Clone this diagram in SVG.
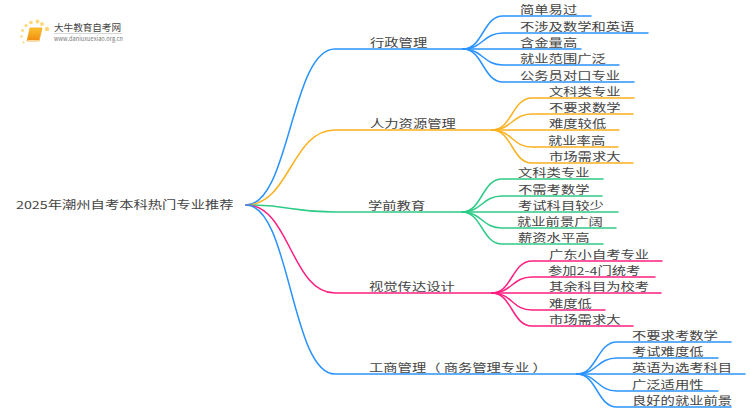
<svg xmlns="http://www.w3.org/2000/svg" width="750" height="410" viewBox="0 0 750 410">
<style>
text{font-family:"Noto Sans CJK SC","Liberation Sans",sans-serif;font-size:11px;fill:#444}
path{fill:none;stroke-width:1.5;stroke-linecap:round}
.b{stroke:#2b93ff}.o{stroke:#fbb120}.g{stroke:#2ecb87}.p{stroke:#ff1f80}
</style>
<defs><linearGradient id="bk" x1="0" y1="0" x2="0" y2="1"><stop offset="0" stop-color="#fbc02d"/><stop offset="1" stop-color="#f08a10"/></linearGradient></defs>
<rect width="750" height="410" fill="#fff"/>
<g id="connectors">
<path class="b" d="M246 205C290 205 291 49 335 49H463"/>
<path class="o" d="M246 205C290 205 291 130 335 130H492"/>
<path class="g" d="M246 205C290 205 291 212 335 212H462"/>
<path class="p" d="M246 205C290 205 291 293 335 293H492"/>
<path class="b" d="M246 205C290 205 291 374 335 374H577"/>
<path class="b" d="M463 49C483 49 483 16 503 16H591"/>
<path class="b" d="M463 49C483 49 483 33 503 33H648"/>
<path class="b" d="M463 49H581"/>
<path class="b" d="M463 49C483 49 483 65 503 65H619"/>
<path class="b" d="M463 49C483 49 483 82 503 82H634"/>
<path class="o" d="M492 130C512 130 512 98 532 98H634"/>
<path class="o" d="M492 130C512 130 512 114 532 114H633"/>
<path class="o" d="M492 130H619"/>
<path class="o" d="M492 130C512 130 512 147 532 147H618"/>
<path class="o" d="M492 130C512 130 512 163 532 163H633"/>
<path class="g" d="M462 212C482 212 482 179 502 179H603"/>
<path class="g" d="M462 212C482 212 482 196 502 196H602"/>
<path class="g" d="M462 212H618"/>
<path class="g" d="M462 212C482 212 482 228 502 228H616"/>
<path class="g" d="M462 212C482 212 482 244 502 244H603"/>
<path class="p" d="M492 293C512 293 512 261 532 261H662"/>
<path class="p" d="M492 293C512 293 512 277 532 277H655"/>
<path class="p" d="M492 293H661"/>
<path class="p" d="M492 293C512 293 512 310 532 310H605"/>
<path class="p" d="M492 293C512 293 512 326 532 326H633"/>
<path class="b" d="M577 374C597 374 597 342 617 342H731"/>
<path class="b" d="M577 374C597 374 597 358 617 358H718"/>
<path class="b" d="M577 374H745"/>
<path class="b" d="M577 374C597 374 597 391 617 391H718"/>
<path class="b" d="M577 374C597 374 597 407 617 407H731"/>
</g>
<g id="root"><text transform="translate(16 209) scale(1.3 1)">2025年潮州自考本科热门专业推荐</text></g>
<g id="n1"><text transform="translate(370 47) scale(1.3 1)">行政管理</text></g>
<g id="n1-1"><text transform="translate(520 14) scale(1.3 1)">简单易过</text></g>
<g id="n1-2"><text transform="translate(520 31) scale(1.3 1)">不涉及数学和英语</text></g>
<g id="n1-3"><text transform="translate(520 47) scale(1.3 1)">含金量高</text></g>
<g id="n1-4"><text transform="translate(520 63) scale(1.3 1)">就业范围广泛</text></g>
<g id="n1-5"><text transform="translate(520 80) scale(1.3 1)">公务员对口专业</text></g>
<g id="n2"><text transform="translate(370 128) scale(1.3 1)">人力资源管理</text></g>
<g id="n2-1"><text transform="translate(549 96) scale(1.3 1)">文科类专业</text></g>
<g id="n2-2"><text transform="translate(549 112) scale(1.3 1)">不要求数学</text></g>
<g id="n2-3"><text transform="translate(549 128) scale(1.3 1)">难度较低</text></g>
<g id="n2-4"><text transform="translate(548 145) scale(1.3 1)">就业率高</text></g>
<g id="n2-5"><text transform="translate(549 161) scale(1.3 1)">市场需求大</text></g>
<g id="n3"><text transform="translate(368 210) scale(1.3 1)">学前教育</text></g>
<g id="n3-1"><text transform="translate(518 177) scale(1.3 1)">文科类专业</text></g>
<g id="n3-2"><text transform="translate(518 194) scale(1.3 1)">不需考数学</text></g>
<g id="n3-3"><text transform="translate(518 210) scale(1.3 1)">考试科目较少</text></g>
<g id="n3-4"><text transform="translate(517 226) scale(1.3 1)">就业前景广阔</text></g>
<g id="n3-5"><text transform="translate(518 242) scale(1.3 1)">薪资水平高</text></g>
<g id="n4"><text transform="translate(369 291) scale(1.3 1)">视觉传达设计</text></g>
<g id="n4-1"><text transform="translate(549 259) scale(1.3 1)">广东小自考专业</text></g>
<g id="n4-2"><text transform="translate(548 275) scale(1.3 1)">参加2-4门统考</text></g>
<g id="n4-3"><text transform="translate(549 291) scale(1.3 1)">其余科目为校考</text></g>
<g id="n4-4"><text transform="translate(549 308) scale(1.3 1)">难度低</text></g>
<g id="n4-5"><text transform="translate(549 324) scale(1.3 1)">市场需求大</text></g>
<g id="n5"><text transform="translate(369 372) scale(1.3 1)">工商管理（ 商务管理专业 ）</text></g>
<g id="n5-1"><text transform="translate(632 340) scale(1.3 1)">不要求考数学</text></g>
<g id="n5-2"><text transform="translate(632 356) scale(1.3 1)">考试难度低</text></g>
<g id="n5-3"><text transform="translate(632 372) scale(1.3 1)">英语为选考科目</text></g>
<g id="n5-4"><text transform="translate(632 389) scale(1.3 1)">广泛适用性</text></g>
<g id="n5-5"><text transform="translate(632 405) scale(1.3 1)">良好的就业前景</text></g>
<g id="logo">
<g fill="#fdd777"><circle cx="47" cy="29" r="2.2"/><circle cx="42" cy="24" r="1.9"/><circle cx="37.5" cy="21.5" r="1.9"/><circle cx="31" cy="22.5" r="1.8"/><circle cx="26" cy="25.5" r="1.6"/><circle cx="22.5" cy="30.5" r="1.4"/><circle cx="21.5" cy="36.5" r="1.2"/><circle cx="23.5" cy="42.5" r="1.1"/></g>
<polygon points="30,28 42,28 39,41 27,41" fill="url(#bk)" stroke="#f5a623" stroke-width=".8"/>
<rect x="27.5" y="40" width="11.5" height="1.4" fill="#f9d9a0"/>
<rect x="54" y="33" width="68" height="0.8" fill="#ccc"/>
<text x="54" y="31" style="font-size:9.6px;fill:#444" textLength="67">大牛教育自考网</text>
<text x="54" y="41" style="font-size:5.6px;fill:#777" textLength="69">www.daniuxuexiao.org.cn</text>
</g>
</svg>
